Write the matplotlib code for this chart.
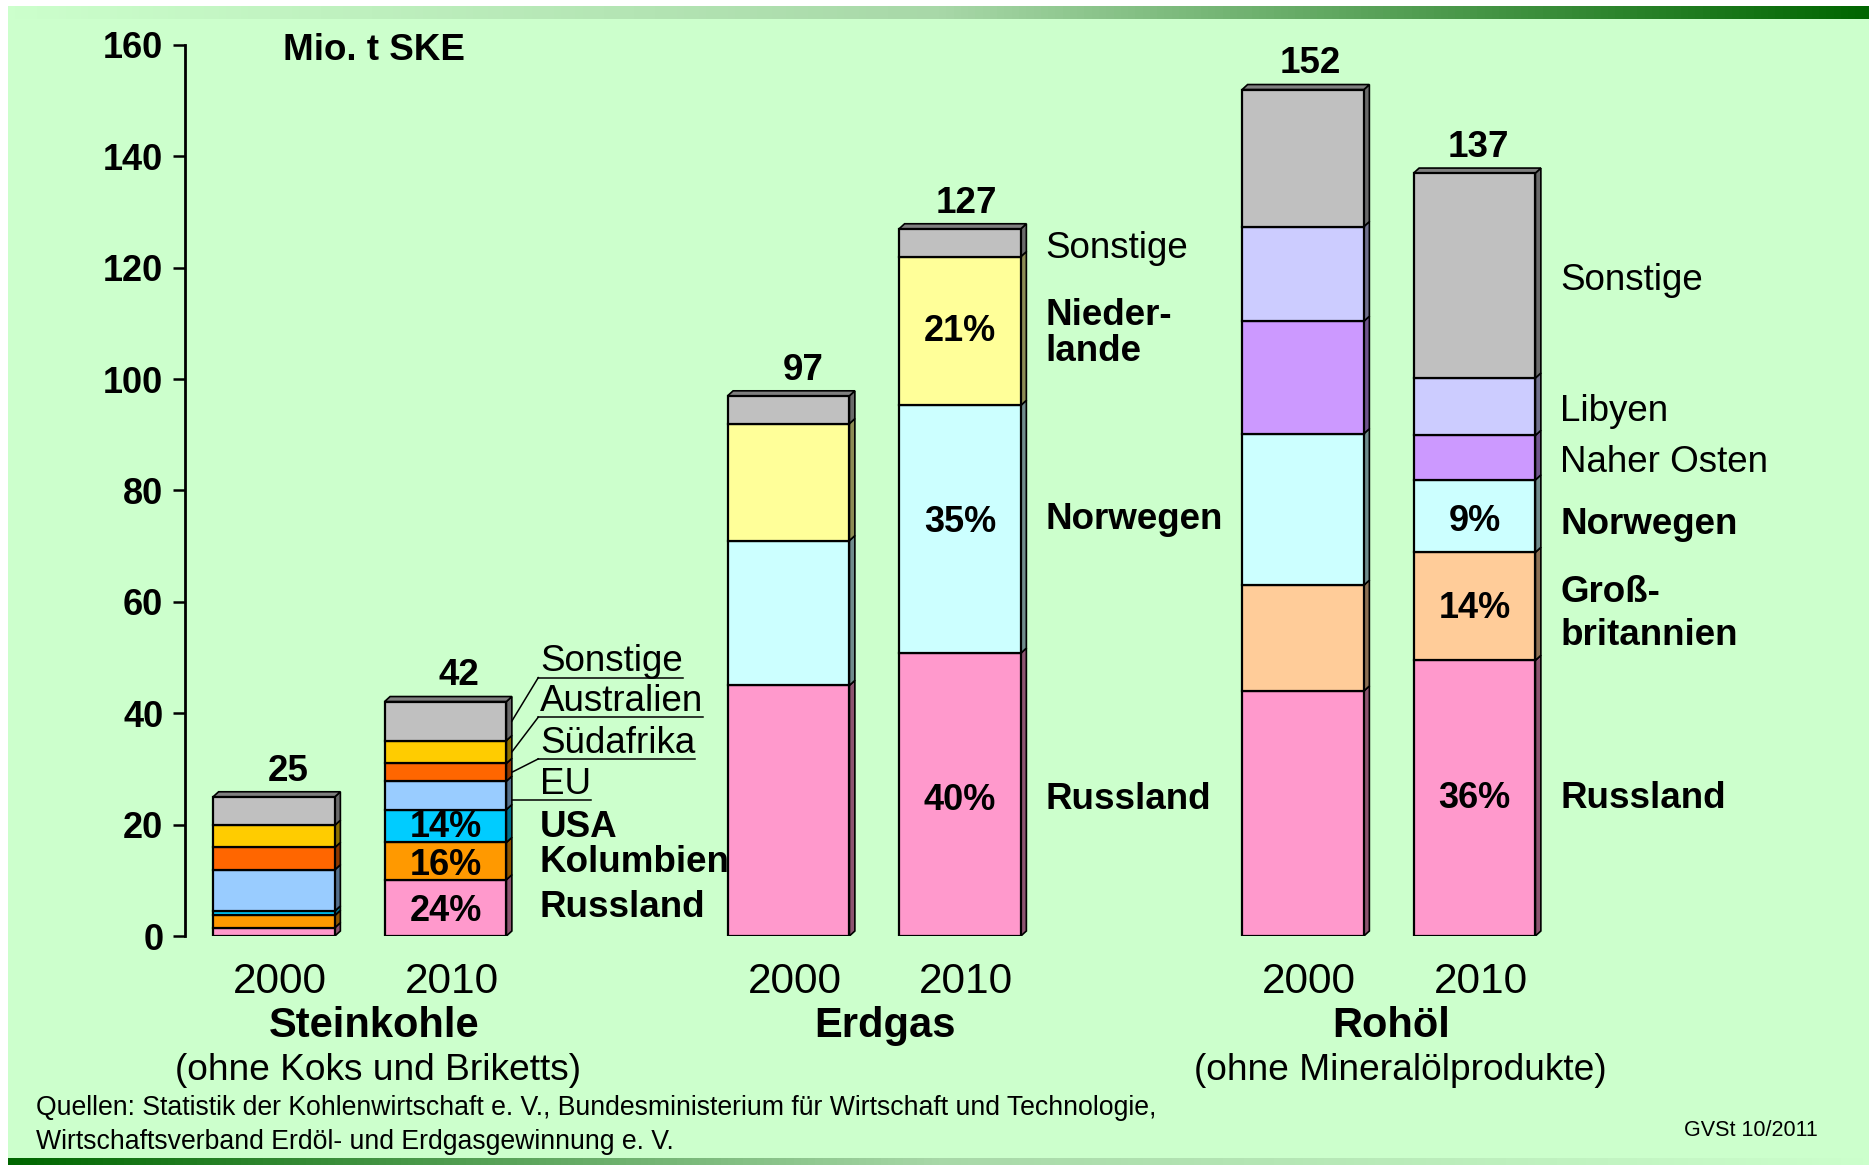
import numpy as np
import matplotlib
matplotlib.use("Agg")
import matplotlib.pyplot as plt
import matplotlib.transforms as mtransforms
from matplotlib.colors import to_rgb, LinearSegmentedColormap
from matplotlib.patches import Polygon, Rectangle

plt.rcParams['font.family'] = ['Liberation Sans', 'DejaVu Sans']

# ---------------- data ----------------
groups = ["Steinkohle", "Erdgas", "Rohöl"]
group_notes = ["(ohne Koks und Briketts)", "", "(ohne Mineralölprodukte)"]
years = ["2000", "2010"]
y_ticks = [0, 20, 40, 60, 80, 100, 120, 140, 160]
unit_label = "Mio. t SKE"

coal_sources = ["Russland", "Kolumbien", "USA", "EU", "Südafrika", "Australien", "Sonstige"]
coal_2000 = [1.5, 2.2, 0.8, 7.4, 4.0, 4.0, 5.1]
coal_2010 = [10.1, 6.7, 5.9, 5.1, 3.2, 4.1, 7.0]
coal_colors = ["#FF99CC", "#FF9900", "#00CCFF", "#99CCFF", "#FF6600", "#FFCC00", "#C0C0C0"]
coal_totals = ["25", "42"]
coal_pct_2010 = ["24%", "16%", "14%", "", "", "", ""]
coal_bold = [True, True, True, False, False, False, False]

gas_sources = ["Russland", "Norwegen", "Nieder-\nlande", "Sonstige"]
gas_2000 = [45.0, 26.0, 21.0, 5.0]
gas_2010 = [50.8, 44.5, 26.7, 5.0]
gas_colors = ["#FF99CC", "#CCFFFF", "#FFFF99", "#C0C0C0"]
gas_totals = ["97", "127"]
gas_pct_2010 = ["40%", "35%", "21%", ""]
gas_bold = [True, True, True, False]

oil_sources = ["Russland", "Groß-\nbritannien", "Norwegen", "Naher Osten", "Libyen", "Sonstige"]
oil_2000 = [44.0, 19.0, 27.2, 20.2, 17.0, 24.6]
oil_2010 = [49.5, 19.4, 13.0, 8.0, 10.3, 36.8]
oil_colors = ["#FF99CC", "#FFCC99", "#CCFFFF", "#CC99FF", "#CCCCFF", "#C0C0C0"]
oil_totals = ["152", "137"]
oil_pct_2010 = ["36%", "14%", "9%", "", "", ""]
oil_bold = [True, True, True, False, False, False]

source_note_1 = "Quellen: Statistik der Kohlenwirtschaft e. V., Bundesministerium für Wirtschaft und Technologie,"
source_note_2 = "Wirtschaftsverband Erdöl- und Erdgasgewinnung e. V."
credit = "GVSt 10/2011"

# ---------------- layout ----------------
W, H = 1869, 1165
fig = plt.figure(figsize=(W / 100, H / 100), dpi=100)
fig.patch.set_facecolor("white")


def fx(px):
    return px / W


def fy(py):
    return 1 - py / H


fig.add_artist(Rectangle((fx(8), fy(1158)), 1 - fx(8), fy(19) - fy(1158),
                         transform=fig.transFigure, facecolor="#CCFFCC",
                         edgecolor="none", zorder=-5))
grad = np.linspace(0, 1, 512)[None, :]
cm_top = LinearSegmentedColormap.from_list("gt", ["#CCFFCC", "#A8D8A8", "#006600"])
gax = fig.add_axes([fx(8), fy(19), 1 - fx(8), fy(6) - fy(19)])
gax.imshow(grad, aspect="auto", cmap=cm_top)
gax.axis("off")
cm_bot = LinearSegmentedColormap.from_list("gb", ["#006600", "#A8D8A8", "#CCFFCC"])
bax = fig.add_axes([fx(8), 0, 1 - fx(8), fy(1158)])
bax.imshow(grad, aspect="auto", cmap=cm_bot)
bax.axis("off")

x0_px, unit_px = 274.0, 171.5
ax = fig.add_axes([fx(185), fy(936), 1 - fx(185), fy(45) - fy(936)])
ax.set_facecolor("none")
ax.set_xlim((185 - x0_px) / unit_px, (W - x0_px) / unit_px)
ax.set_ylim(0, 160)
for s in ["top", "right", "bottom"]:
    ax.spines[s].set_visible(False)
ax.spines["left"].set_linewidth(2)
ax.set_xticks([])
ax.set_yticks(y_ticks)
ax.set_yticklabels([str(t) for t in y_ticks], fontsize=26, fontweight="bold")
ax.tick_params(axis="y", length=8.6, width=1.8, pad=7)

positions = [[0, 1], [3, 4], [6, 7]]
bw = 0.71
ddx, ddy = 0.032, 0.9


def dark(c, f):
    r, g, b = to_rgb(c)
    return (r * f, g * f, b * f)


def draw_stack(x, vals, colors):
    vals = np.asarray(vals, dtype=float)
    bottoms = np.concatenate([[0.0], np.cumsum(vals)[:-1]])
    xr = x + bw / 2
    xl = x - bw / 2
    for v, b, c in zip(vals, bottoms, colors):
        side = [(xr, b), (xr + ddx, b + ddy), (xr + ddx, b + v + ddy), (xr, b + v)]
        ax.add_patch(Polygon(side, closed=True, facecolor=dark(c, 0.55),
                             edgecolor="black", linewidth=1.2, zorder=2))
    top = vals.sum()
    ax.add_patch(Polygon([(xl, top), (xl + ddx, top + ddy), (xr + ddx, top + ddy), (xr, top)],
                         closed=True, facecolor=dark(colors[-1], 0.66),
                         edgecolor="black", linewidth=1.2, zorder=2))
    ax.bar([x] * len(vals), vals, bw, bottom=bottoms, color=colors,
           edgecolor="black", linewidth=1.6, zorder=3)
    return bottoms, top


series = [
    (coal_2000, coal_2010, coal_colors, coal_totals, coal_pct_2010, coal_sources, coal_bold),
    (gas_2000, gas_2010, gas_colors, gas_totals, gas_pct_2010, gas_sources, gas_bold),
    (oil_2000, oil_2010, oil_colors, oil_totals, oil_pct_2010, oil_sources, oil_bold),
]

label_x_off = [0.551, 0.496, 0.499]
label_y_shift = [[0, -0.17, -0.34, 0, 0, 0, 0],
                 [-0.86, 1.76, -0.48, -1.07],
                 [0, -1.45, -1.45, -0.86, -0.86, -0.86]]
pct_y_shift = [[-0.64, -0.8, -0.34, 0, 0, 0, 0],
               [-1.07, 1.12, -0.06, 0],
               [0, -0.37, -1.0, 0, 0, 0]]
total_x_off = [[0.08, 0.08], [0.085, 0.035], [0.04, 0.025]]
line_spacing = [1.0, 1.02, 1.29]
coal_callout_y = {"EU": 24.4, "Südafrika": 31.8, "Australien": 39.3, "Sonstige": 46.4}
title_off = [0.083, 0.063, 0.013]
note_off = [0.106, 0.0, 0.066]

xt = mtransforms.blended_transform_factory(ax.transData, fig.transFigure)
renderer = fig.canvas.get_renderer()

for gi, (v00, v10, cols, tots, pcts, srcs, bolds) in enumerate(series):
    pa, pb = positions[gi]
    for k, (x, vals, tot) in enumerate([(pa, v00, tots[0]), (pb, v10, tots[1])]):
        bottoms, top = draw_stack(x, vals, cols)
        ax.text(x + total_x_off[gi][k], top + ddy + 2.0, tot, ha="center", va="baseline",
                fontsize=26.5, fontweight="bold", zorder=5)
    # labels for 2010 bar
    bottoms = np.concatenate([[0.0], np.cumsum(v10)[:-1]])
    mids = bottoms + np.asarray(v10) / 2
    for i, (name, pct, bold) in enumerate(zip(srcs, pcts, bolds)):
        if pct:
            ax.text(pb, mids[i] + pct_y_shift[gi][i], pct, ha="center", va="center",
                    fontsize=26, fontweight="bold", zorder=5)
        lx = pb + label_x_off[gi]
        if gi == 0 and name in coal_callout_y:
            uy = coal_callout_y[name]
            t = ax.text(lx, uy + 1.1, name, ha="left", va="baseline", fontsize=26.5,
                        zorder=5)
            bb = t.get_window_extent(renderer=renderer)
            x_end = ax.transData.inverted().transform((bb.x1, bb.y0))[0]
            side_x = pb + bw / 2 + ddx
            if name == "EU":
                ax.plot([side_x, x_end], [uy, uy], color="black", lw=1.1,
                        zorder=4, clip_on=False)
            else:
                sx = lx - 0.01
                ax.plot([sx, x_end], [uy, uy], color="black", lw=1.1,
                        zorder=4, clip_on=False)
                ax.plot([side_x, sx], [mids[i], uy], color="black", lw=1.1,
                        zorder=4, clip_on=False)
        else:
            ax.text(lx, mids[i] + label_y_shift[gi][i], name, ha="left", va="center",
                    fontsize=26.5, fontweight="bold" if bold else "normal",
                    linespacing=line_spacing[gi], zorder=5)
    # x labels
    for x, yr in zip(positions[gi], years):
        ax.text(x + 0.035, fy(993), yr, transform=xt, ha="center", va="baseline",
                fontsize=30.5)
    gc = (pa + pb) / 2
    ax.text(gc + title_off[gi], fy(1037), groups[gi], transform=xt, ha="center",
            va="baseline", fontsize=30, fontweight="bold")
    if group_notes[gi]:
        ax.text(gc + note_off[gi], fy(1080), group_notes[gi], transform=xt,
                ha="center", va="baseline", fontsize=26.7)

fig.text(fx(283), fy(60), unit_label, ha="left", va="baseline", fontsize=26.5,
         fontweight="bold")
fig.text(fx(36), fy(1115), source_note_1, ha="left", va="baseline", fontsize=19.2)
fig.text(fx(36), fy(1149), source_note_2, ha="left", va="baseline", fontsize=19.2)
fig.text(fx(1818), fy(1135.5), credit, ha="right", va="baseline", fontsize=15.5)

fig.savefig("out.png", dpi=100, facecolor=fig.get_facecolor())
